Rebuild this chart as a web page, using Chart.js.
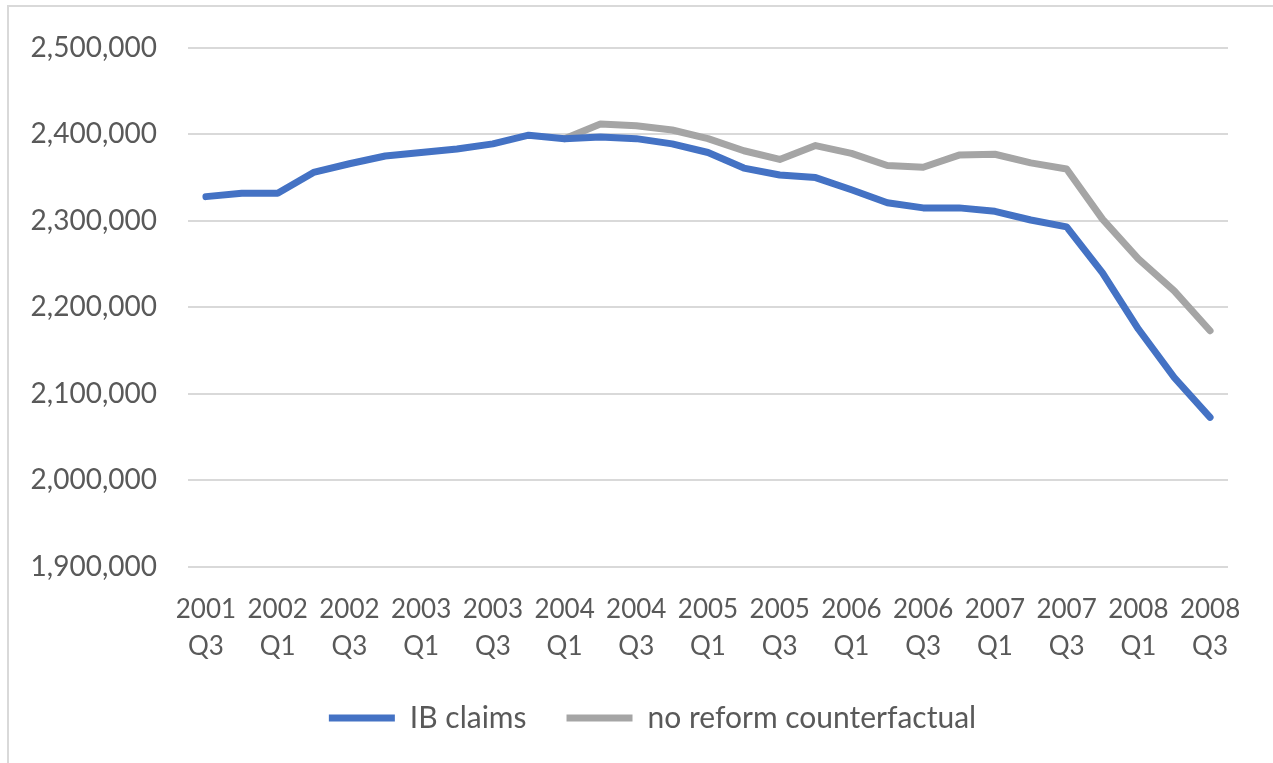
<!DOCTYPE html>
<html>
<head>
<meta charset="utf-8">
<script src="https://cdn.jsdelivr.net/npm/chart.js@4"></script>
<style>
  html, body { margin: 0; padding: 0; background: #fff; }
  #wrap { width: 1273px; height: 763px; }
</style>
</head>
<body>
<div id="wrap"><canvas id="claimsChart" width="1273" height="763"></canvas></div>
<script>
const quarterYears = ["2001", "2001", "2002", "2002", "2002", "2002", "2003", "2003", "2003", "2003",
  "2004", "2004", "2004", "2004", "2005", "2005", "2005", "2005", "2006", "2006",
  "2006", "2006", "2007", "2007", "2007", "2007", "2008", "2008", "2008"];
const quarterNames = ["Q3", "Q4", "Q1", "Q2", "Q3", "Q4", "Q1", "Q2", "Q3", "Q4",
  "Q1", "Q2", "Q3", "Q4", "Q1", "Q2", "Q3", "Q4", "Q1", "Q2",
  "Q3", "Q4", "Q1", "Q2", "Q3", "Q4", "Q1", "Q2", "Q3"];

const ibClaims = [2328000, 2332000, 2332000, 2356000, 2366000, 2375000, 2379000, 2383000, 2389000, 2399000,
  2395000, 2397000, 2395000, 2389000, 2379000, 2361000, 2353000, 2350000, 2336000, 2321000,
  2315000, 2315000, 2311000, 2301000, 2293000, 2240000, 2175000, 2119000, 2073000];
const noReform = [null, null, null, null, null, null, null, null, null, null,
  2395000, 2412000, 2410000, 2405000, 2395000, 2381000, 2371000, 2387000, 2378000, 2364000,
  2362000, 2376000, 2377000, 2367000, 2360000, 2302000, 2256000, 2219000, 2173000];

const yMin = 1900000;
const yMax = 2500000;
const yStep = 100000;

const textColor = "#595959";
const gridColor = "#d9d9d9";
const fontFamily = "Lato, 'Open Sans', sans-serif";

// thin outer frame, top and left edges only
const framePlugin = {
  id: "frame",
  beforeDraw(chart) {
    const ctx = chart.ctx;
    ctx.save();
    ctx.strokeStyle = gridColor;
    ctx.lineWidth = 2;
    ctx.beginPath();
    ctx.moveTo(8, chart.height);
    ctx.lineTo(8, 6);
    ctx.lineTo(chart.width, 6);
    ctx.stroke();
    ctx.restore();
  }
};

// nudge the legend box right so it sits under the middle of the plot
const legendShift = {
  id: "legendShift",
  afterLayout(chart) {
    if (chart.legend) chart.legend.left += 77;
  }
};

const labels = quarterYears.map((y, i) => y + " " + quarterNames[i]);

new Chart(document.getElementById("claimsChart").getContext("2d"), {
  type: "line",
  data: {
    labels: labels,
    datasets: [{
      label: "IB claims",
      data: ibClaims,
      borderColor: "#4472C4",
      backgroundColor: "#4472C4",
      borderWidth: 7,
      borderCapStyle: "round",
      borderJoinStyle: "round",
      pointRadius: 0,
      pointStyle: "line",
      tension: 0
    }, {
      label: "no reform counterfactual",
      data: noReform,
      borderColor: "#A5A5A5",
      backgroundColor: "#A5A5A5",
      borderWidth: 7,
      borderCapStyle: "round",
      borderJoinStyle: "round",
      pointRadius: 0,
      pointStyle: "line",
      tension: 0
    }]
  },
  options: {
    responsive: false,
    animation: false,
    layout: { padding: { top: 46, right: 45, bottom: 20, left: 0 } },
    plugins: {
      tooltip: { enabled: false },
      legend: {
        position: "bottom",
        labels: {
          usePointStyle: true,
          pointStyleWidth: 66,
          padding: 40,
          color: textColor,
          font: { family: fontFamily, size: 30 }
        }
      }
    },
    scales: {
      x: {
        offset: true,
        grid: { display: false },
        border: { display: false },
        afterFit: s => { s.height = 96; },
        ticks: {
          autoSkip: false,
          maxRotation: 0,
          padding: 16,
          color: textColor,
          font: { family: fontFamily, size: 26, lineHeight: 1.42 },
          callback: (v, i) => i % 2 === 0 ? [quarterYears[i], quarterNames[i]] : null
        }
      },
      y: {
        min: yMin,
        max: yMax,
        grid: { color: gridColor, lineWidth: 2, drawTicks: false },
        border: { display: false },
        afterFit: s => { s.width = 188; },
        ticks: {
          stepSize: yStep,
          padding: 31,
          color: textColor,
          font: { family: fontFamily, size: 28 },
          callback: v => v.toLocaleString("en-US")
        }
      }
    }
  },
  plugins: [framePlugin, legendShift]
});
</script>
</body>
</html>
